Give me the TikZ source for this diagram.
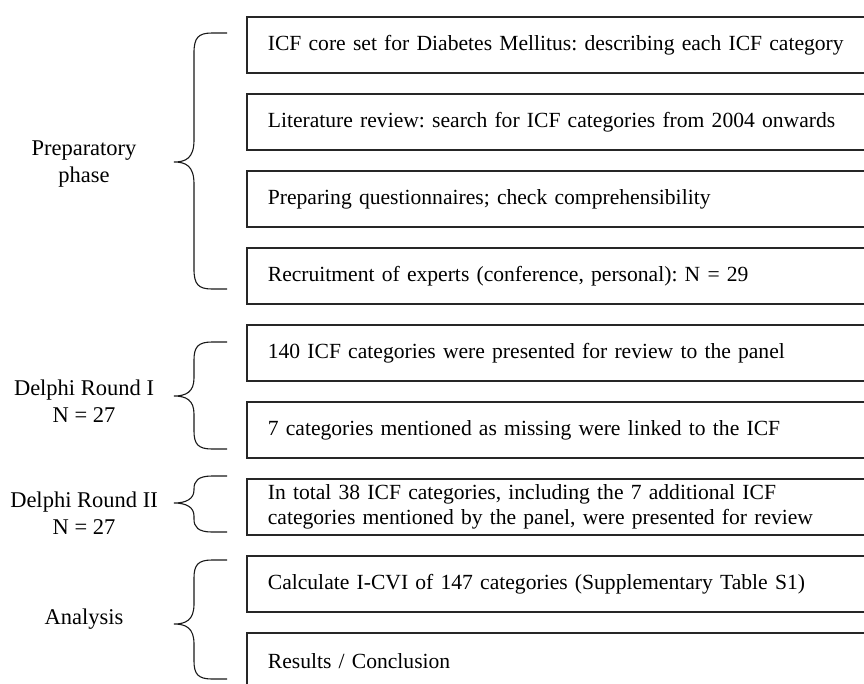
\documentclass[tikz,border=0pt]{standalone}
\usepackage{fontspec}
\setmainfont{Liberation Serif}
\frenchspacing
\newcommand{\drawbrace}[5]{% top, bottom, tip y, end curve, tip curve
  \draw[bracestyle] (227,#1) -- (212,#1) .. controls (198,#1) and (194,#1+5) .. (194,#1+#4)
    -- (194,#3-#5) .. controls (194,#3-4) and (186,#3) .. (174,#3)
    .. controls (186,#3) and (194,#3+4) .. (194,#3+#5)
    -- (194,#2-#4) .. controls (194,#2-5) and (198,#2) .. (212,#2) -- (227,#2);
}
\begin{document}
\begin{tikzpicture}[x=1pt,y=-1pt,
  stepbox/.style={draw=black!85, line width=1.7pt, anchor=north west, minimum height=56pt,
    text width=650pt, inner xsep=21pt, inner ysep=0pt, align=left,
    font=\fontsize{21.6}{25}\selectfont},
  phaselabel/.style={align=center, font=\fontsize{22.5}{27}\selectfont, inner sep=0pt},
  bracestyle/.style={line width=1.1pt, draw=black!90}]
\clip (0,0) rectangle (864,683);
\fill[white] (0,0) rectangle (864,683);

\node[stepbox] (b1) at (246,16) {ICF core set for Diabetes Mellitus: describing each ICF category};
\node[stepbox] (b2) at (246,93) {Literature review: search for ICF categories from 2004 onwards};
\node[stepbox] (b3) at (246,170) {Preparing questionnaires; check comprehensibility};
\node[stepbox] (b4) at (246,247) {Recruitment of experts (conference, personal): N = 29};
\node[stepbox] (b5) at (246,324) {140 ICF categories were presented for review to the panel};
\node[stepbox] (b6) at (246,401) {7 categories mentioned as missing were linked to the ICF};
\node[stepbox] (b7) at (246,478) {In total 38 ICF categories, including the 7 additional ICF\\categories mentioned by the panel, were presented for review};
\node[stepbox] (b8) at (246,555) {Calculate I-CVI of 147 categories (Supplementary Table S1)};
\node[stepbox] (b9) at (246,632) {Results / Conclusion};

\drawbrace{33}{289}{162}{20}{22}
\drawbrace{342}{449}{396}{18}{18}
\drawbrace{476}{532}{503}{13}{13}
\drawbrace{560}{679}{624}{18}{20}

\node[phaselabel] (l1) at (84,164) {Preparatory\\phase};
\node[phaselabel] (l2) at (84,401) {Delphi Round I\\N = 27};
\node[phaselabel] (l3) at (84,513) {Delphi Round II\\N = 27};
\node[phaselabel, anchor=base] (l4) at (84,624) {Analysis};
\end{tikzpicture}
\end{document}
